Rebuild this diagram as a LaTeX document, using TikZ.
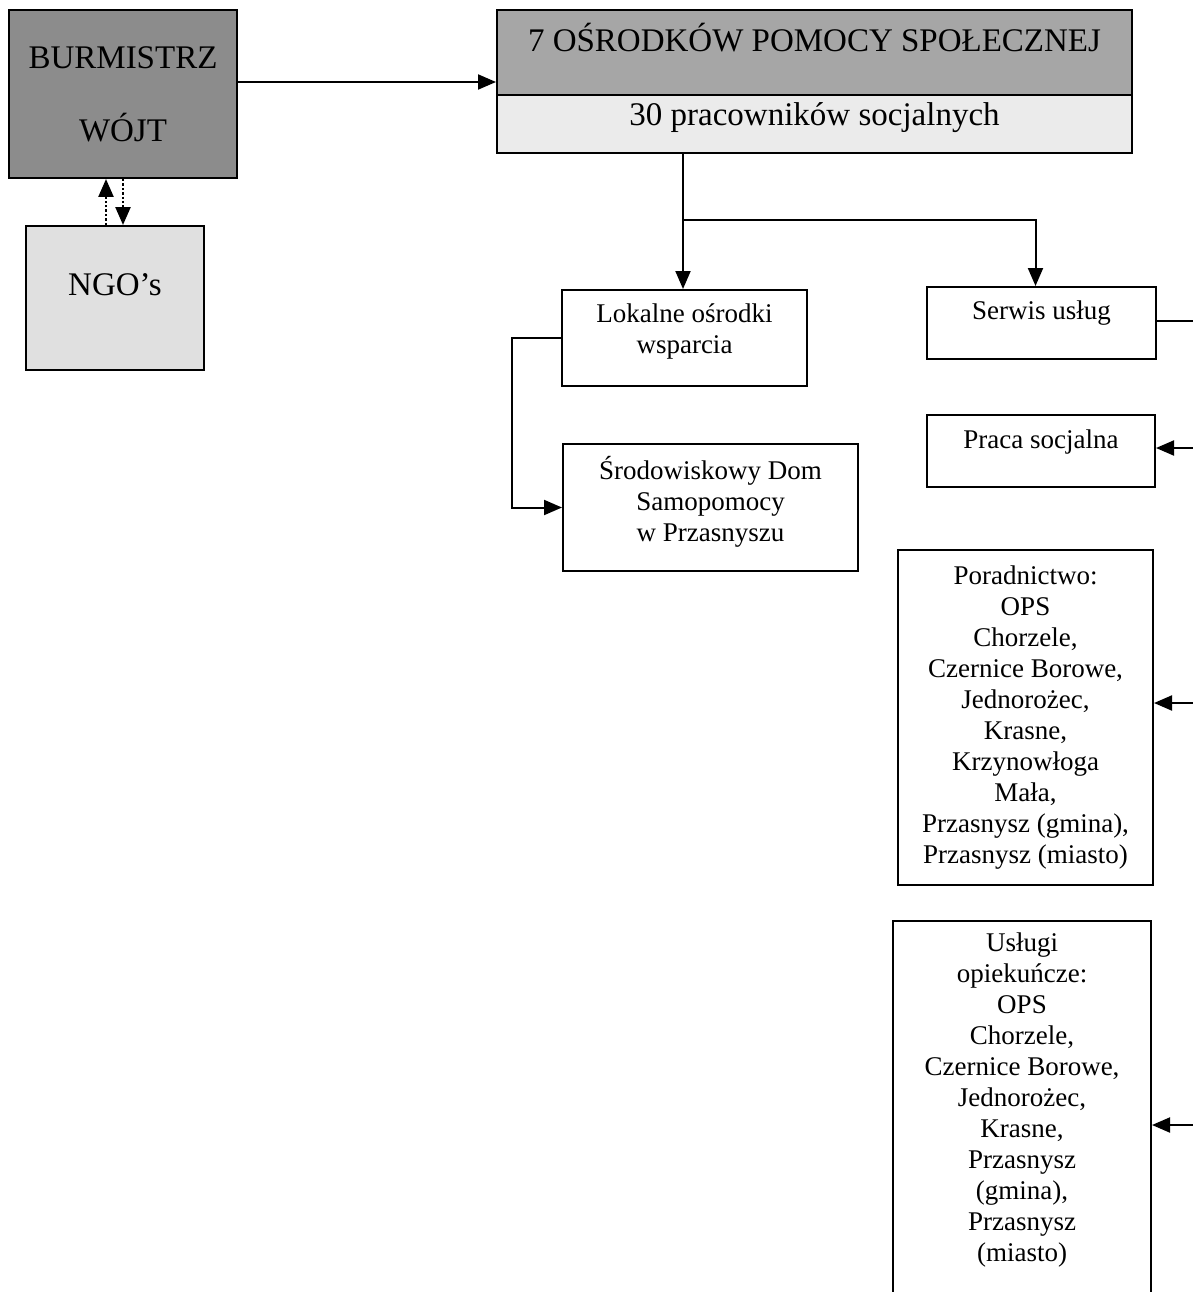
\documentclass[tikz,border=0pt]{standalone}
\usepackage{fontspec}
\setmainfont{Liberation Serif}
\usetikzlibrary{arrows.meta}
\newcommand\dpad[1]{\rule[-#1]{0pt}{#1}}
\begin{document}
\begin{tikzpicture}[x=1pt,y=-1pt,
  box/.style={draw, line width=2pt, inner sep=0pt, align=center, font=\fontsize{27}{31}\selectfont},
  big/.style={font=\fontsize{33}{37}\selectfont},
  arr/.style={line width=2pt, -{Triangle[length=18pt,width=15pt]}},
  ln/.style={line width=2pt},
  dots/.style={line width=2.4pt, dotted, -{Triangle[length=18pt,width=15pt]}}]
\useasboundingbox (0,0) rectangle (1193,1292);
\clip (0,0) rectangle (1193,1292);
\fill[white] (0,0) rectangle (1193,1292);
% left column
\node[box, big, fill=black!45, minimum width=228, minimum height=168] (burm) at (123,94) {BURMISTRZ\\[36pt]WÓJT};
\node[box, big, fill=black!12, minimum width=178, minimum height=144] (ngo) at (115,298) {NGO’s\dpad{26pt}};
% header
\node[box, big, fill=black!35, minimum width=635, minimum height=85] (hdrtop) at (814.5,52.5) {7 OŚRODKÓW POMOCY SPOŁECZNEJ\dpad{30pt}};
\node[box, big, fill=black!8, minimum width=635, minimum height=58] (hdrbot) at (814.5,124) {30 pracowników socjalnych\dpad{20pt}};
% second level
\node[box, minimum width=245, minimum height=96] (lok) at (684.5,338) {Lokalne ośrodki\\wsparcia\dpad{19pt}};
\node[box, minimum width=295, minimum height=127] (srod) at (710.5,507.5) {Środowiskowy Dom\\Samopomocy\\w Przasnyszu\dpad{17pt}};
\node[box, minimum width=229, minimum height=72] (serwis) at (1041.5,323) {Serwis usług\dpad{26pt}};
\node[box, minimum width=228, minimum height=72] (praca) at (1041,451) {Praca socjalna\dpad{24pt}};
\node[box, minimum width=255, minimum height=335] (porad) at (1025.5,717.5) {Poradnictwo:\\OPS\\Chorzele,\\Czernice Borowe,\\Jednorożec,\\Krasne,\\Krzynowłoga\\Mała,\\Przasnysz (gmina),\\Przasnysz (miasto)};
\node[box, minimum width=258, minimum height=375] (uslugi) at (1022,1108.5) {Usługi\\opiekuńcze:\\OPS\\Chorzele,\\Czernice Borowe,\\Jednorożec,\\Krasne,\\Przasnysz\\(gmina),\\Przasnysz\\(miasto)\dpad{22pt}};
% connectors
\draw[dots] ([xshift=-9pt]ngo.north) -- ([xshift=-9pt]ngo.north |- burm.south);
\draw[dots] ([xshift=8pt]ngo.north |- burm.south) -- ([xshift=8pt]ngo.north);
\draw[arr] ([yshift=12pt]burm.east) -- ([yshift=12pt]burm.east -| hdrtop.west);
\coordinate (br) at (683,220);
\draw[arr] (hdrbot.south -| br) -- (br) -- (br |- lok.north);
\draw[arr] (br) -| ([xshift=-6pt]serwis.north);
\draw[arr] (lok.west) -- ++(-49,0) |- (srod.west);
\coordinate (rserwis) at (1200,321);
\coordinate (rpraca) at (1200,448);
\coordinate (rporad) at (1200,703);
\coordinate (ruslugi) at (1200,1125);
\draw[ln] ([yshift=2pt]serwis.east) -- (rserwis);
\draw[arr] (rpraca) -- (rpraca -| praca.east);
\draw[arr] (rporad) -- (rporad -| porad.east);
\draw[arr] (ruslugi) -- (ruslugi -| uslugi.east);
\end{tikzpicture}
\end{document}
